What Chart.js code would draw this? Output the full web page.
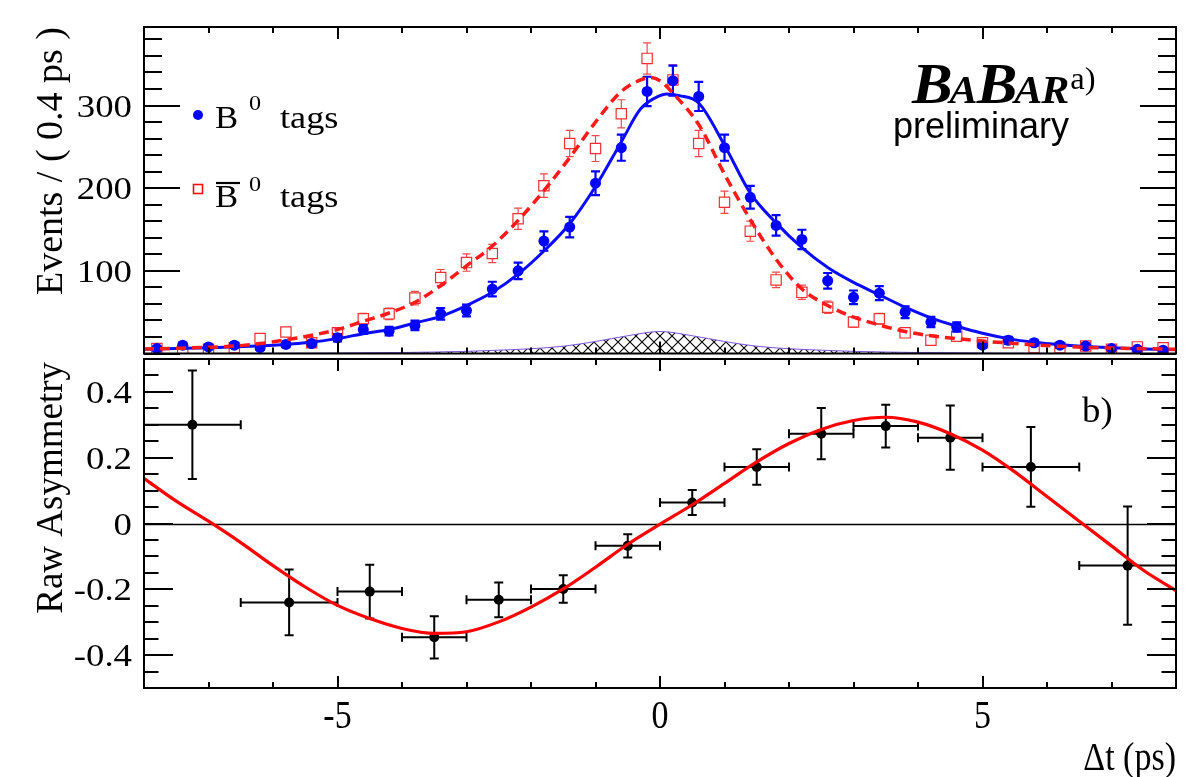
<!DOCTYPE html>
<html><head><meta charset="utf-8">
<script src="https://cdn.jsdelivr.net/npm/chart.js@4.4.0/dist/chart.umd.min.js"></script>
<style>
html,body{margin:0;padding:0;background:#fff;}
#wrap{position:relative;width:1200px;height:777px;background:#fff;overflow:hidden;}
canvas{position:absolute;left:0;}
#cTop{top:0;}
#cBot{top:354px;}
</style></head><body>
<div id="wrap"><canvas id="cTop" width="1200" height="362"></canvas><canvas id="cBot" width="1200" height="423"></canvas></div>
<script>
// ---------------- data ----------------
const binCenters = [-7.8,-7.4,-7.0,-6.6,-6.2,-5.8,-5.4,-5.0,-4.6,-4.2,-3.8,-3.4,-3.0,-2.6,-2.2,-1.8,-1.4,-1.0,-0.6,-0.2,
                    0.2,0.6,1.0,1.4,1.8,2.2,2.6,3.0,3.4,3.8,4.2,4.6,5.0,5.4,5.8,6.2,6.6,7.0,7.4,7.8];
const b0Tags = [6,10,8,10,7,11,12,19,29,27,34,48,52,78,100,136,153,206,249,317,
                330,311,249,189,155,138,88,68,73,50,38,32,10,16,13,10,9,6,5,4];
const b0TagsErr = [2.4,3.2,2.8,3.2,2.6,3.3,3.5,4.4,5.4,5.2,5.8,6.9,7.2,8.8,10,11.7,12.4,14.4,15.8,17.8,
                   18.2,17.6,15.8,13.7,12.4,11.7,9.4,8.2,8.5,7.1,6.2,5.7,3.2,4,3.6,3.2,3,2.4,2.2,2];
const b0barTags = [6,4,5,7,18,26,13,25,42,48,67,92,110,121,163,203,254,248,290,357,
                   331,254,183,148,89,74,56,38,42,25,16,21,13,13,7,7,9,5,8,7];
const b0barTagsErr = [2.4,2,2.2,2.6,4.2,5.1,3.6,5,6.5,6.9,8.2,9.6,10.5,11,12.8,14.2,15.9,15.7,17,18.9,
                      18.2,15.9,13.5,12.2,9.4,8.6,7.5,6.2,6.5,5,4,4.6,3.6,3.6,2.6,2.6,3,2.2,2.8,2.6];

const b0FitX = [-8,-7,-6,-5.5,-5,-4.6,-4.2,-3.8,-3.4,-3.0,-2.6,-2.2,-1.8,-1.4,-1.0,-0.6,-0.3,0,0.1,0.3,0.6,1.0,1.4,1.8,2.2,2.6,3.0,3.4,3.8,4.2,4.6,5.0,5.4,5.8,6.2,6.6,7.0,7.5,8];
const b0FitY = [5,7,10,13,18,24,29,37,45,58,74,96,124,157,202,256,296,312,314,312,303,252,194,158,128,104,86,71,56,43,33,24.5,18,13.5,10.5,8.5,7,5.5,4.5];

const b0barFitX = [-8,-7.4,-7.0,-6.6,-6.2,-5.8,-5.4,-5.0,-4.6,-4.2,-3.8,-3.4,-3.0,-2.6,-2.2,-1.8,-1.4,-1.0,-0.6,-0.3,-0.15,0,0.2,0.6,1.0,1.4,1.8,2.2,2.6,3.0,3.4,3.8,4.2,4.6,5.0,5.4,5.8,6.2,6.6,7.0,7.4,8];
const b0barFitY = [5.5,6.5,7.5,9,12,16.5,22,29,39,49,62,82,106,130,161,197,237,280,317,331,334,330,315,277,217,162,114,78,58,44,34.5,26.6,21.4,18,15,12.7,10.5,8.7,7.5,6.7,6,5];

const bkgX = [-8,-6,-5,-4,-3,-2.5,-2,-1.5,-1,-0.5,0,0.5,1,1.5,2,2.5,3,4,5,6,8];
const bkgY = [0,0.3,0.6,1.2,2.6,4,5.8,8.8,14.5,21.5,26.6,21.5,14.5,8.8,5.8,4,2.6,1.2,0.6,0.3,0];

const asymX    = [-7.25,-5.75,-4.5,-3.5,-2.5,-1.5,-0.5,0.5,1.5,2.5,3.5,4.5,5.75,7.25];
const asymXErr = [0.75,0.75,0.5,0.5,0.5,0.5,0.5,0.5,0.5,0.5,0.5,0.5,0.75,0.75];
const asymY    = [0.300,-0.240,-0.207,-0.346,-0.232,-0.199,-0.068,0.064,0.172,0.273,0.296,0.261,0.172,-0.128];
const asymYErr = [0.165,0.100,0.082,0.064,0.053,0.042,0.035,0.038,0.054,0.078,0.065,0.098,0.121,0.180];

const asymFitX = [-8,-7.5,-7,-6.5,-6,-5.5,-5,-4.5,-4,-3.5,-3,-2.5,-2,-1.5,-1,-0.5,0,0.5,1,1.5,2,2.5,3,3.5,4,4.5,5,5.5,6,6.5,7,7.5,8];
const asymFitY = [0.137,0.068,0.007,-0.058,-0.128,-0.193,-0.249,-0.289,-0.319,-0.334,-0.329,-0.299,-0.254,-0.199,-0.133,-0.063,-0.002,0.057,0.122,0.187,0.243,0.286,0.313,0.323,0.308,0.273,0.223,0.157,0.082,0.007,-0.068,-0.143,-0.204];

const eventsTickValues = [100,200,300];
const eventsTickLabels = ['100','200','300'];
const asymTickValues = [-0.4,-0.2,0,0.2,0.4];
const asymTickLabels = ['-0.4','-0.2','0','0.2','0.4'];
const dtTickValues = [-5,0,5];
const dtTickLabels = ['-5','0','5'];

// ---------------- helpers ----------------
const SERIF = '"Liberation Serif", "DejaVu Serif", serif';
const SANS = '"Liberation Sans", Arial, sans-serif';

function stext(ctx, s, x, y, font, align, sx, sy, baseline) {
  ctx.save();
  ctx.font = font; ctx.textAlign = align || 'left'; ctx.textBaseline = baseline || 'alphabetic';
  ctx.fillStyle = '#000';
  ctx.translate(x, y); ctx.scale(sx || 1, sy || 1);
  ctx.fillText(s, 0, 0);
  ctx.restore();
}
function rtext(ctx, s, x, y, font) {
  ctx.save();
  ctx.font = font; ctx.textAlign = 'right'; ctx.textBaseline = 'middle'; ctx.fillStyle = '#000';
  ctx.translate(x, y); ctx.rotate(-Math.PI / 2);
  ctx.fillText(s, 0, 0);
  ctx.restore();
}

function makeHatch() {
  const c = document.createElement('canvas'); c.width = 12; c.height = 12;
  const g = c.getContext('2d');
  g.strokeStyle = '#000'; g.lineWidth = 1.1;
  g.beginPath();
  g.moveTo(0, 0); g.lineTo(12, 12);
  g.moveTo(12, 0); g.lineTo(0, 12);
  g.stroke();
  return g.createPattern(c, 'repeat');
}

function pts(xs, ys) { return xs.map((x, i) => ({ x: x, y: ys[i] })); }

// error bars drawn through the chart's scales, right before the dataset's markers
const errorBars = {
  id: 'errorBars',
  beforeDatasetDraw(chart, args) {
    const ds = chart.data.datasets[args.index];
    if (!ds.errorY) return;
    const xs = chart.scales.x, ys = chart.scales.y, ctx = chart.ctx, ca = chart.chartArea;
    ctx.save();
    ctx.beginPath(); ctx.rect(ca.left, ca.top - 1, ca.right - ca.left, ca.bottom - ca.top + 2); ctx.clip();
    ctx.strokeStyle = ds.errorColor; ctx.lineWidth = ds.errorWidth;
    const cap = ds.capHalf, gap = ds.errorGap || 0;
    ds.data.forEach((p, i) => {
      const px = xs.getPixelForValue(p.x), py = ys.getPixelForValue(p.y);
      const e = ds.errorY[i];
      const top = ys.getPixelForValue(p.y + e), bot = ys.getPixelForValue(p.y - e);
      ctx.beginPath();
      if (py - top > gap) {
        ctx.moveTo(px, py - gap); ctx.lineTo(px, top);
        ctx.moveTo(px - cap, top); ctx.lineTo(px + cap, top);
      }
      if (bot - py > gap) {
        ctx.moveTo(px, py + gap); ctx.lineTo(px, bot);
        ctx.moveTo(px - cap, bot); ctx.lineTo(px + cap, bot);
      }
      if (ds.errorX) {
        const l = xs.getPixelForValue(p.x - ds.errorX[i]), r = xs.getPixelForValue(p.x + ds.errorX[i]);
        ctx.moveTo(l, py); ctx.lineTo(r, py);
        ctx.moveTo(l, py - cap); ctx.lineTo(l, py + cap);
        ctx.moveTo(r, py - cap); ctx.lineTo(r, py + cap);
      }
      ctx.stroke();
    });
    ctx.restore();
  }
};

function drawFrameTicks(chart, yMinorStep, yMajorStep, yMajLen, yMinLen) {
  const ctx = chart.ctx, ca = chart.chartArea, xs = chart.scales.x, ys = chart.scales.y;
  ctx.save();
  ctx.strokeStyle = '#000'; ctx.lineWidth = 2;
  ctx.beginPath();
  const n0 = Math.ceil(ys.min / yMinorStep - 1e-6), n1 = Math.floor(ys.max / yMinorStep + 1e-6);
  for (let k = n0; k <= n1; k++) {
    const v = k * yMinorStep;
    const py = Math.round(ys.getPixelForValue(v));
    const isMaj = Math.abs(v / yMajorStep - Math.round(v / yMajorStep)) < 1e-6;
    const L = isMaj ? yMajLen : yMinLen;
    ctx.moveTo(ca.left, py); ctx.lineTo(ca.left + L, py);
    ctx.moveTo(ca.right, py); ctx.lineTo(ca.right - L, py);
  }
  for (let k = -7; k <= 7; k++) {
    const px = Math.round(xs.getPixelForValue(k));
    const L = (k % 5 === 0) ? 12 : 6;
    ctx.moveTo(px, ca.top); ctx.lineTo(px, ca.top + L);
    ctx.moveTo(px, ca.bottom); ctx.lineTo(px, ca.bottom - L);
  }
  ctx.stroke();
  ctx.strokeRect(ca.left, ca.top, ca.right - ca.left, ca.bottom - ca.top);
  ctx.restore();
}

const topDecor = {
  id: 'topDecor',
  afterDraw(chart) {
    const ctx = chart.ctx, ys = chart.scales.y;
    drawFrameTicks(chart, 20, 100, 36, 18);
    eventsTickValues.forEach((v, i) => {
      const py = ys.getPixelForValue(v);
      stext(ctx, eventsTickLabels[i], 132, py + 11, '32px ' + SERIF, 'right', 1.15, 1);
    });
    rtext(ctx, 'Events / ( 0.4 ps )', 52, 27, '38px ' + SERIF);
    // legend
    ctx.save();
    ctx.fillStyle = '#0000ff';
    ctx.beginPath(); ctx.arc(198, 115, 5, 0, Math.PI * 2); ctx.fill();
    ctx.strokeStyle = '#ee1111'; ctx.lineWidth = 1.6;
    ctx.strokeRect(193.5, 184.5, 9, 9);
    ctx.restore();
    stext(ctx, 'B', 215, 128, '31px ' + SERIF, 'left', 1.12, 1);
    stext(ctx, '0', 249, 110, '21px ' + SERIF, 'left', 1.15, 1);
    stext(ctx, 'tags', 280, 128, '31px ' + SERIF, 'left', 1.17, 1);
    stext(ctx, 'B', 215, 207, '31px ' + SERIF, 'left', 1.12, 1);
    ctx.save(); ctx.strokeStyle = '#000'; ctx.lineWidth = 2.2;
    ctx.beginPath(); ctx.moveTo(216, 183); ctx.lineTo(240, 183); ctx.stroke(); ctx.restore();
    stext(ctx, '0', 249, 191, '21px ' + SERIF, 'left', 1.15, 1);
    stext(ctx, 'tags', 280, 207, '31px ' + SERIF, 'left', 1.17, 1);
    // BABAR logo
    const parts = [['B', 58], ['A', 40], ['B', 58], ['A', 40], ['R', 40]];
    let x = 912; const sx = 1.05;
    parts.forEach(([ch, sz]) => {
      const f = 'italic bold ' + sz + 'px ' + SERIF;
      stext(ctx, ch, x, 103, f, 'left', sx, 1);
      ctx.font = f;
      x += ctx.measureText(ch).width * sx - (sz > 45 ? 3 : 1);
    });
    stext(ctx, 'a)', x + 2, 89, '31px ' + SERIF, 'left', 1.05, 1);
    stext(ctx, 'preliminary', 893, 138, '36px ' + SANS, 'left', 1.0, 1);
  }
};

const botDecor = {
  id: 'botDecor',
  beforeDatasetsDraw(chart) {
    const ctx = chart.ctx, ca = chart.chartArea, ys = chart.scales.y;
    const py = Math.round(ys.getPixelForValue(0)) + 0.5;
    ctx.save(); ctx.strokeStyle = '#000'; ctx.lineWidth = 1.6;
    ctx.beginPath(); ctx.moveTo(ca.left, py); ctx.lineTo(ca.right, py); ctx.stroke(); ctx.restore();
  },
  afterDraw(chart) {
    const ctx = chart.ctx, ys = chart.scales.y, xs = chart.scales.x, ca = chart.chartArea;
    drawFrameTicks(chart, 0.05, 0.2, 29, 14.5);
    asymTickValues.forEach((v, i) => {
      const py = ys.getPixelForValue(v);
      stext(ctx, asymTickLabels[i], 132, py + 11, '32px ' + SERIF, 'right', 1.15, 1);
    });
    dtTickValues.forEach((v, i) => {
      const px = xs.getPixelForValue(v);
      stext(ctx, dtTickLabels[i], px, ca.bottom + 40, '34px ' + SERIF, 'center', 1, 1.2);
    });
    stext(ctx, 'Δt (ps)', 1176, 770 - 354, '34px ' + SERIF, 'right', 1, 1.15);
    rtext(ctx, 'Raw Asymmetry', 52, 362 - 354, '37px ' + SERIF);
    stext(ctx, 'b)', 1082, 422 - 354, '35px ' + SERIF, 'left', 1.05, 1);
  }
};

function baseOptions(padding, ymin, ymax) {
  return {
    responsive: false, animation: false, events: [],
    layout: { padding: padding },
    plugins: { legend: { display: false }, tooltip: { enabled: false } },
    scales: {
      x: { type: 'linear', min: -8, max: 8, display: false },
      y: { type: 'linear', min: ymin, max: ymax, display: false }
    }
  };
}

// ---------------- top panel ----------------
const hatch = makeHatch();
new Chart(document.getElementById('cTop'), {
  type: 'scatter',
  data: {
    datasets: [
      { type: 'line', showLine: true, data: pts(bkgX, bkgY), fill: 'origin', backgroundColor: hatch,
        borderColor: '#7a55d8', borderWidth: 1, pointRadius: 0, cubicInterpolationMode: 'monotone', order: 6 },
      { type: 'scatter', data: pts(binCenters, b0barTags), pointStyle: 'rect', pointRadius: 7.3,
        pointBorderColor: '#f03030', borderColor: '#f03030', pointBackgroundColor: 'rgba(0,0,0,0)', backgroundColor: 'rgba(0,0,0,0)',
        pointBorderWidth: 1.2, borderWidth: 1.2,
        errorY: b0barTagsErr, errorColor: '#f04848', errorWidth: 1.2, capHalf: 4, errorGap: 5, order: 5 },
      { type: 'scatter', data: pts(binCenters, b0Tags), pointStyle: 'circle', pointRadius: 5.5,
        pointBackgroundColor: '#0000ff', backgroundColor: '#0000ff', pointBorderWidth: 0, borderWidth: 0, borderColor: '#0000ff',
        errorY: b0TagsErr, errorColor: '#0000ff', errorWidth: 2.2, capHalf: 4.5, errorGap: 0, order: 4 },
      { type: 'line', showLine: true, data: pts(b0FitX, b0FitY), borderColor: '#0a0aff', borderWidth: 3,
        pointRadius: 0, fill: false, cubicInterpolationMode: 'monotone', order: 3 },
      { type: 'line', showLine: true, data: pts(b0barFitX, b0barFitY), borderColor: '#ff1a1a', borderWidth: 3.5,
        borderDash: [10, 6], pointRadius: 0, fill: false, cubicInterpolationMode: 'monotone', order: 2 }
    ]
  },
  options: baseOptions({ left: 144, right: 24, top: 27, bottom: 4 }, 0, 395),
  plugins: [errorBars, topDecor]
});

// ---------------- bottom panel ----------------
new Chart(document.getElementById('cBot'), {
  type: 'scatter',
  data: {
    datasets: [
      { type: 'scatter', data: pts(asymX, asymY), pointStyle: 'circle', pointRadius: 5,
        pointBackgroundColor: '#000', backgroundColor: '#000', pointBorderWidth: 0, borderWidth: 0, borderColor: '#000',
        errorY: asymYErr, errorX: asymXErr, errorColor: '#000', errorWidth: 2, capHalf: 4.5, errorGap: 0, order: 3 },
      { type: 'line', showLine: true, data: pts(asymFitX, asymFitY), borderColor: '#ff0000', borderWidth: 3.2,
        pointRadius: 0, fill: false, cubicInterpolationMode: 'monotone', order: 1 }
    ]
  },
  options: baseOptions({ left: 144, right: 24, top: 4, bottom: 89 }, -0.5, 0.5),
  plugins: [errorBars, botDecor]
});
</script>
</body></html>
